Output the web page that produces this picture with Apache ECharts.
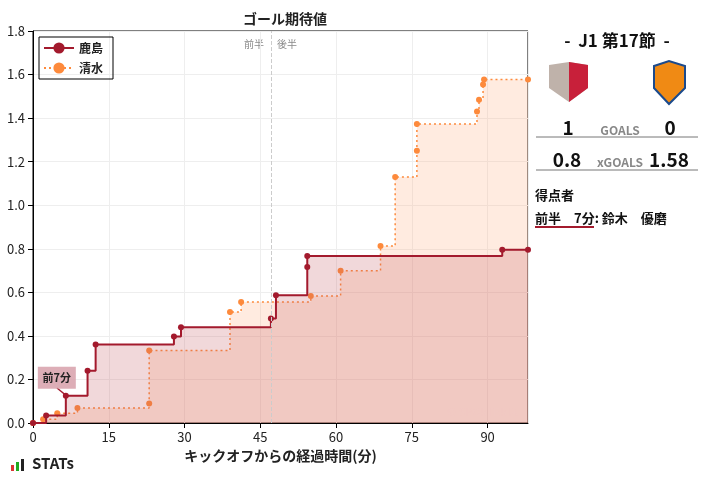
<!DOCTYPE html>
<html>
<head>
<meta charset="utf-8">
<script src="https://cdn.jsdelivr.net/npm/echarts@6/dist/echarts.min.js"></script>
<style>body{margin:0}#main{width:707px;height:479px}</style>
</head>
<body>
<div id="main"></div>
<script>
var homeName = '鹿島', awayName = '清水';
var homeXg = [[0,0],[2.6,0.034],[6.5,0.125],[10.8,0.24],[12.4,0.36],[27.9,0.397],[29.3,0.44],[47.1,0.48],[48.1,0.587],[54.3,0.716],[54.3,0.767],[92.9,0.796],[98,0.796]];
var awayXg = [[0,0],[2.0,0.017],[4.8,0.045],[8.8,0.069],[23.0,0.09],[23.0,0.333],[39.0,0.51],[41.2,0.556],[55.0,0.583],[60.9,0.699],[68.8,0.813],[71.7,1.13],[76.0,1.25],[76.0,1.373],[87.9,1.43],[88.3,1.484],[89.1,1.554],[89.3,1.577],[98,1.577]];
var goalMark = [6.5, 0.125];

var chart = echarts.init(document.getElementById('main'));
var F = '"Noto Sans CJK JP", "Noto Sans", sans-serif';
function txt(x, y, s, size, color, align) {
	return {type: 'text', x: x, y: y, style: {text: s, fill: color || '#111', fontSize: size, fontWeight: 'bold',
		textAlign: align || 'center', textVerticalAlign: 'middle', fontFamily: F}};
}
chart.setOption({
	animation: false,
	textStyle: {fontFamily: F},
	title: {text: 'ゴール期待値', left: 280, top: 7, textAlign: 'center',
		textStyle: {fontSize: 14, fontWeight: 'bold', color: '#222', fontFamily: F}},
	legend: {
		left: 39, top: 37, orient: 'vertical', itemGap: 8, itemWidth: 30,
		borderColor: '#000', borderWidth: 1, padding: [5, 10, 5, 4],
		textStyle: {fontSize: 12, fontWeight: 'bold', color: '#222'},
		data: [homeName, awayName]
	},
	grid: {left: 33, right: 179, top: 31, bottom: 56, show: true, borderColor: '#000', borderWidth: 1},
	xAxis: {
		type: 'value', min: 0, max: 98, interval: 15,
		name: 'キックオフからの経過時間(分)', nameLocation: 'middle', nameGap: 26,
		nameTextStyle: {fontSize: 14, fontWeight: 'bold', color: '#222'},
		axisLine: {lineStyle: {color: '#000'}}, axisTick: {inside: false, lineStyle: {color: '#000'}},
		axisLabel: {color: '#222', fontSize: 13, showMaxLabel: false},
		splitLine: {lineStyle: {color: '#eee'}}
	},
	yAxis: {
		type: 'value', min: 0, max: 1.8, interval: 0.2,
		axisLine: {show: true, lineStyle: {color: '#000'}}, axisTick: {show: true, lineStyle: {color: '#000'}},
		axisLabel: {color: '#222', fontSize: 13, formatter: function (v) { return v.toFixed(1); }},
		splitLine: {lineStyle: {color: '#eee'}}
	},
	series: [
		{
			name: awayName, type: 'line', step: 'end', data: awayXg,
			symbol: 'circle', symbolSize: 6, z: 2,
			itemStyle: {color: '#fd8a3c'},
			lineStyle: {color: '#fd8a3c', width: 1.5, type: [2, 3]},
			areaStyle: {color: 'rgba(253,170,120,0.33)'},
			markLine: {
				silent: true, symbol: 'none', label: {show: false},
				lineStyle: {color: '#ccc', type: 'dashed', width: 1},
				data: [{xAxis: 47.1}]
			}
		},
		{
			name: homeName, type: 'line', step: 'end', data: homeXg,
			symbol: 'circle', symbolSize: 6, z: 3,
			itemStyle: {color: '#a31a2d'},
			lineStyle: {color: '#a31a2d', width: 2},
			areaStyle: {color: 'rgba(195,85,95,0.33)'},
			markPoint: {
				symbol: 'rect', symbolSize: [38, 22], symbolOffset: [-9, -18],
				itemStyle: {color: 'rgba(215,160,170,0.85)'},
				label: {show: true, formatter: '前7分', color: '#222', fontSize: 11, fontWeight: 'bold'},
				data: [{coord: goalMark}]
			}
		}
	],
	graphic: [
		{type: 'line', shape: {x1: 57, y1: 388, x2: 68, y2: 397}, style: {stroke: '#a31a2d', lineWidth: 1.5}},
		{type: 'text', x: 244, y: 39, style: {text: '前半', fill: '#888', fontSize: 10, fontFamily: F}},
		{type: 'text', x: 277, y: 39, style: {text: '後半', fill: '#888', fontSize: 10, fontFamily: F}},
		{type: 'text', x: 447, y: 406, style: {text: '© SPORTERIA', fill: '#fff', fontSize: 11, fontFamily: F}},
		txt(617, 41, '-  J1 第17節  -', 17),
		{type: 'polygon', shape: {points: [[549, 65], [569, 62], [588, 65], [588, 88], [569, 102], [549, 88]]}, style: {fill: '#bfb2aa'}},
		{type: 'polygon', shape: {points: [[569, 62], [588, 65], [588, 88], [569, 102]]}, style: {fill: '#c8203a'}},
		{type: 'polygon', shape: {points: [[654, 66], [669, 61], [685, 66], [685, 88], [669, 104], [654, 88]]}, style: {fill: '#f08a14', stroke: '#1b4a8c', lineWidth: 2}},
		txt(568, 128, '1', 19),
		txt(620, 130, 'GOALS', 12, '#888'),
		txt(670, 128, '0', 19),
		{type: 'line', shape: {x1: 536, y1: 137, x2: 698, y2: 137}, style: {stroke: '#777', lineWidth: 1}},
		txt(567, 160, '0.8', 19),
		txt(620, 162, 'xGOALS', 12, '#888'),
		txt(669, 160, '1.58', 19),
		{type: 'line', shape: {x1: 536, y1: 170, x2: 698, y2: 170}, style: {stroke: '#777', lineWidth: 1}},
		txt(535, 195, '得点者', 13, '#111', 'left'),
		txt(535, 218, '前半　7分: 鈴木　優磨', 13, '#111', 'left'),
		{type: 'line', shape: {x1: 535, y1: 227, x2: 594, y2: 227}, style: {stroke: '#a31a2d', lineWidth: 2}},
		{type: 'rect', shape: {x: 11, y: 465, width: 3, height: 6}, style: {fill: '#d33'}},
		{type: 'rect', shape: {x: 16, y: 462, width: 3, height: 9}, style: {fill: '#2a2'}},
		{type: 'rect', shape: {x: 21, y: 459, width: 3, height: 12}, style: {fill: '#222'}},
		{type: 'text', x: 32, y: 456, style: {text: 'STATs', fill: '#222', fontSize: 15, fontWeight: 'bold', fontFamily: F}}
	]
});
</script>
</body>
</html>
